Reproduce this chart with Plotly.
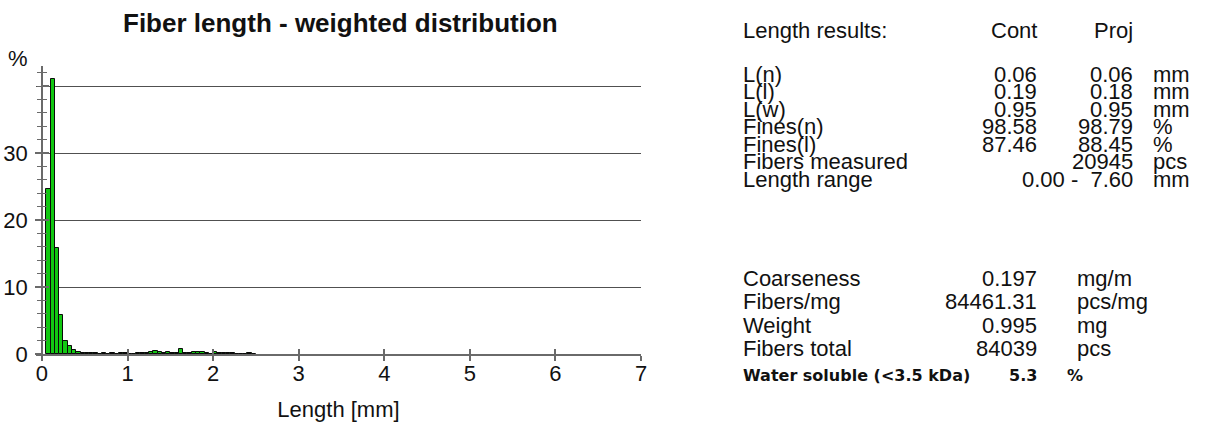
import plotly.graph_objects as go

# ---- histogram data: length-weighted fiber length distribution ----
bin_width = 0.05  # mm
bin_start = [0.05, 0.10, 0.15, 0.20, 0.25, 0.30, 0.35, 0.40, 0.45, 0.50,
             0.55, 0.60, 0.65, 0.70, 0.75, 0.80, 0.85, 0.90, 0.95, 1.00,
             1.05, 1.10, 1.15, 1.20, 1.25, 1.30, 1.35, 1.40, 1.45, 1.50,
             1.55, 1.60, 1.65, 1.70, 1.75, 1.80, 1.85, 1.90, 1.95, 2.00,
             2.05, 2.10, 2.15, 2.20, 2.25, 2.30, 2.35, 2.40, 2.45]
weight_pct = [24.7, 41.0, 15.8, 5.8, 2.0, 1.2, 0.6, 0.3, 0.2, 0.15,
              0.1, 0.1, 0.05, 0.1, 0.0, 0.1, 0.0, 0.1, 0.1, 0.0,
              0.0, 0.1, 0.15, 0.2, 0.3, 0.45, 0.3, 0.2, 0.3, 0.2,
              0.15, 0.7, 0.2, 0.1, 0.35, 0.3, 0.35, 0.1, 0.0, 0.3,
              0.1, 0.1, 0.1, 0.1, 0.0, 0.0, 0.0, 0.1, 0.0]

x_ticks = [0, 1, 2, 3, 4, 5, 6, 7]
y_labels = [0, 10, 20, 30]
y_grid = [10, 20, 30, 40]

# ---- results table ----
length_header = ["Length results:", "Cont", "Proj"]
length_labels = ["L(n)", "L(l)", "L(w)", "Fines(n)", "Fines(l)",
                 "Fibers measured", "Length range"]
cont_vals = ["0.06", "0.19", "0.95", "98.58", "87.46", "", ""]
proj_vals = ["0.06", "0.18", "0.95", "98.79", "88.45", "20945",
             "0.00 -\u00a0 7.60"]
length_units = ["mm", "mm", "mm", "%", "%", "pcs", "mm"]

pulp_labels = ["Coarseness", "Fibers/mg", "Weight", "Fibers total"]
pulp_vals = ["0.197", "84461.31", "0.995", "84039"]
pulp_units = ["mg/m", "pcs/mg", "mg", "pcs"]
soluble_row = ["Water soluble (<3.5 kDa)", "5.3", "%"]

# ---- geometry (pixels) ----
W, H = 1208, 426
L, R, T, B = 36, 641, 66, 354
x_range = [-0.07, 7.0]
y_range = [0, 43]


def px(x):
    return (x - L) / (R - L)


def py(y):
    return (B - y) / (B - T)


y_axis_pos = (0 - x_range[0]) / (x_range[1] - x_range[0])

FONT = "Liberation Sans, Arial, sans-serif"
TXT = "#111111"
GRID = "#505050"
AXC = "#6a6a6a"

fig = go.Figure()
fig.add_trace(go.Bar(
    x=[s + bin_width / 2 for s in bin_start],
    y=weight_pct,
    width=bin_width,
    marker=dict(color="#12c812", line=dict(color="#0a0a0a", width=1)),
    showlegend=False,
    hoverinfo="x+y",
))
# helper trace so the overlay axes (inner tick halves, grid) are drawn
fig.add_trace(go.Scatter(x=[None], y=[None], xaxis="x2", yaxis="y2",
                         showlegend=False, hoverinfo="skip"))

tickfont = dict(family=FONT, size=22, color=TXT)

fig.update_layout(
    width=W, height=H, autosize=False,
    margin=dict(l=L, r=W - R, t=T, b=H - B, pad=0, autoexpand=False),
    paper_bgcolor="white", plot_bgcolor="white",
    bargap=0,
    xaxis=dict(
        range=x_range, domain=[0, 1], anchor="y", automargin=False,
        tickvals=x_ticks, ticks="outside", ticklen=5, tickwidth=1.5,
        tickcolor=AXC, showline=True, linecolor=AXC, linewidth=1.5,
        showgrid=False, zeroline=False, tickfont=tickfont,
        ticklabelstandoff=-6,
        title=dict(text="Length [mm]", font=dict(family=FONT, size=22, color=TXT),
                   standoff=16),
    ),
    xaxis2=dict(
        range=x_range, overlaying="x", anchor="y2", automargin=False,
        tickvals=x_ticks, ticks="inside", ticklen=5, tickwidth=1.5,
        tickcolor=AXC, showline=False, showgrid=False, zeroline=False,
        showticklabels=False,
    ),
    yaxis=dict(
        range=y_range, domain=[0, 1], anchor="free", position=y_axis_pos,
        automargin=False,
        tickvals=y_labels, ticks="outside", ticklen=6, tickwidth=1.5,
        tickcolor=AXC, showline=True, linecolor=AXC, linewidth=1.5,
        showgrid=False, zeroline=False, tickfont=tickfont,
        ticklabelstandoff=3,
        minor=dict(dtick=2, ticks="outside", ticklen=4, tickwidth=1.2,
                   tickcolor=AXC, showgrid=False),
    ),
    yaxis2=dict(
        range=y_range, overlaying="y", anchor="free", position=y_axis_pos,
        automargin=False,
        tickvals=y_grid, ticks="inside", ticklen=6, tickwidth=1.5,
        tickcolor=AXC, showline=False, zeroline=False,
        showgrid=True, gridcolor=GRID, gridwidth=1.4,
        showticklabels=False,
        minor=dict(dtick=2, ticks="inside", ticklen=4, tickwidth=1.2,
                   tickcolor=AXC, showgrid=False),
    ),
)

ann = []


def text(x, y, s, anchor="left", size=22, bold=False, family=FONT):
    ann.append(dict(
        x=px(x), y=py(y), xref="paper", yref="paper", text=s,
        showarrow=False, xanchor=anchor, yanchor="middle",
        borderpad=0, borderwidth=0,
        font=dict(family=family, size=size, color=TXT,
                  weight="bold" if bold else "normal"),
    ))


# title and y unit
text(340, 23, "Fiber length - weighted distribution", anchor="center",
     size=26, bold=True)
text(8, 58, "%", size=22)

# length results block
LBL_X, CONT_X, PROJ_X, UNIT_X = 743, 1037, 1133, 1153
text(LBL_X, 30, length_header[0])
text(CONT_X, 30, length_header[1], anchor="right")
text(PROJ_X, 30, length_header[2], anchor="right")
row_y = [74, 91.5, 109, 126.5, 144, 161.5, 179]
for yy, lab, cv, pv, un in zip(row_y, length_labels, cont_vals, proj_vals,
                               length_units):
    text(LBL_X, yy, lab)
    if cv:
        text(CONT_X, yy, cv, anchor="right")
    text(PROJ_X, yy, pv, anchor="right")
    text(UNIT_X, yy, un)

# pulp / coarseness block
PVAL_X, PUNIT_X = 1037, 1077
pulp_y = [278, 301, 325, 348]
for yy, lab, v, un in zip(pulp_y, pulp_labels, pulp_vals, pulp_units):
    text(LBL_X, yy, lab)
    text(PVAL_X, yy, v, anchor="right")
    text(PUNIT_X, yy, un)

BOLD_FONT = "DejaVu Sans, Verdana, sans-serif"
text(LBL_X, 375, soluble_row[0], size=16, bold=True, family=BOLD_FONT)
text(PVAL_X, 375, soluble_row[1], anchor="right", size=16, bold=True,
     family=BOLD_FONT)
text(1067, 375, soluble_row[2], size=16, bold=True, family=BOLD_FONT)

fig.update_layout(annotations=ann)

fig.write_html("out.html")
